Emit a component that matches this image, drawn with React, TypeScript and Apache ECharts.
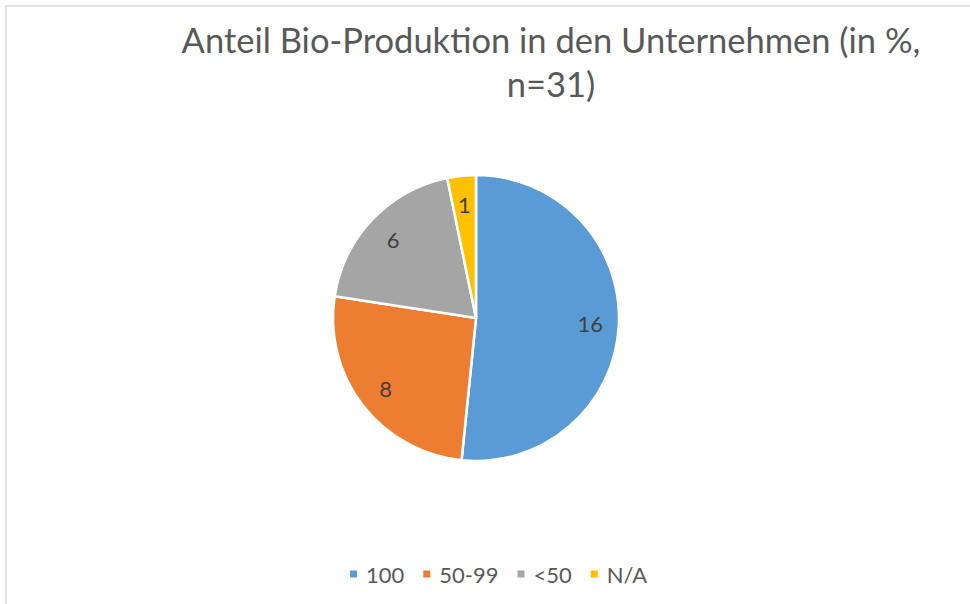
import React, { useEffect, useRef } from "react";
import * as echarts from "echarts";

const titleText = "Anteil Bio-Produktion in den Unternehmen (in %,\nn=31)";
const categories = ["100", "50-99", "<50", "N/A"];
const values = [16, 8, 6, 1];
const colors = ["#5B9BD5", "#ED7D31", "#A5A5A5", "#FFC000"];

const CX = 476;
const CY = 318;
const R = 143;
const LABEL_FRAC = 0.8;

export default function App() {
  const ref = useRef<HTMLDivElement>(null);
  useEffect(() => {
    document.body.style.margin = "0";
    const chart = echarts.init(ref.current!, null, { renderer: "svg" });
    const total = values.reduce((a, b) => a + b, 0);
    const starts: number[] = [];
    let acc = 0;
    values.forEach((v) => {
      starts.push(acc);
      acc += v;
    });
    chart.setOption({
      animation: false,
      backgroundColor: "#ffffff",
      title: {
        text: titleText,
        left: 546,
        top: 12,
        textAlign: "center",
        textStyle: {
          fontFamily: "Lato",
          fontWeight: "normal",
          fontSize: 34.5,
          color: "#595959",
          lineHeight: 44,
        },
      },
      graphic: [
        {
          type: "rect",
          shape: { x: 6, y: 6, width: 1200, height: 1200 },
          style: { fill: "none", stroke: "#d9d9d9", lineWidth: 1.5 },
          silent: true,
        },
      ],
      legend: {
        data: categories,
        left: 343,
        top: 558,
        icon: "rect",
        itemWidth: 9,
        itemHeight: 9,
        itemGap: 17,
        textStyle: { fontFamily: "Lato", fontSize: 22, color: "#595959", padding: [0, 0, 0, 3] },
      },
      series: [
        {
          type: "pie",
          center: [CX, CY],
          radius: R,
          startAngle: 90,
          clockwise: true,
          data: categories.map((c, i) => ({
            name: c,
            value: values[i],
            itemStyle: { color: colors[i] },
          })),
          itemStyle: { borderColor: "#ffffff", borderWidth: 2.5 },
          label: {
            show: true,
            position: "inside",
            formatter: "{c}",
            fontFamily: "Lato",
            fontSize: 22,
            color: "#404040",
          },
          labelLine: { show: false },
          labelLayout: (p: any) => {
            const i = p.dataIndex;
            const mid = ((starts[i] + values[i] / 2) / total) * Math.PI * 2;
            const rr = R * LABEL_FRAC;
            return {
              x: CX + rr * Math.sin(mid),
              y: CY - rr * Math.cos(mid),
              align: "center",
              verticalAlign: "middle",
            };
          },
          emphasis: { disabled: true },
        },
      ],
    });
    return () => chart.dispose();
  }, []);
  return <div ref={ref} style={{ width: 970, height: 604 }} />;
}
